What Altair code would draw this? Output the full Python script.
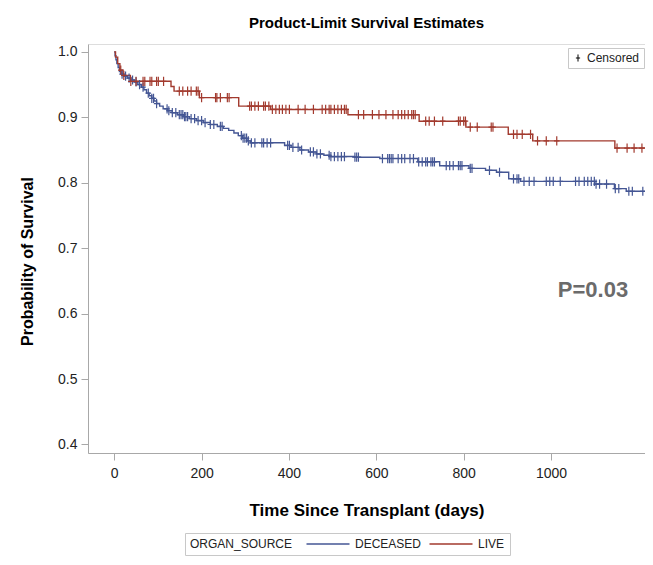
import altair as alt
import pandas as pd
import numpy as np

FONT = "Liberation Sans"

groups = ["DECEASED", "LIVE"]
colors = ["#445694", "#A23A2E"]

# Kaplan-Meier step values
deceased_t = [0, 2, 4, 6, 9, 12, 16, 22, 30, 38, 46, 54, 62, 68, 74, 80, 86, 91, 97, 104,
              112, 122, 133, 145, 158, 172, 188, 204, 220, 236, 250, 262, 274, 284, 294, 304,
              312, 390, 405, 425, 445, 463, 480, 494, 550, 608, 695, 745, 812, 850, 875, 903,
              930, 1100, 1145, 1172]
deceased_v = [1.0, 0.994, 0.988, 0.982, 0.976, 0.970, 0.966, 0.963, 0.960, 0.957, 0.954, 0.950,
              0.946, 0.942, 0.937, 0.933, 0.929, 0.925, 0.921, 0.917, 0.913, 0.910, 0.907, 0.904,
              0.901, 0.898, 0.895, 0.892, 0.889, 0.886, 0.883, 0.880, 0.876, 0.872, 0.868, 0.864,
              0.861, 0.857, 0.854, 0.850, 0.847, 0.844, 0.842, 0.840, 0.839, 0.837, 0.832, 0.826,
              0.822, 0.819, 0.816, 0.806, 0.802, 0.798, 0.791, 0.787]

live_t = [0, 3, 8, 13, 20, 37, 130, 137, 195, 285, 358, 535, 698, 805, 902, 958, 1146]
live_v = [1.0, 0.992, 0.982, 0.972, 0.964, 0.955, 0.947, 0.940, 0.930, 0.917, 0.912, 0.904,
          0.894, 0.885, 0.874, 0.864, 0.853]

end_time = 1225

# Censoring times
deceased_cens = [18, 26, 34, 42, 50, 58, 66, 78, 86, 90, 97, 121, 125, 133, 141, 149, 153, 157,
                 161, 164, 168, 176, 184, 192, 200, 208, 220, 228, 243, 247, 291, 295, 299, 303,
                 307, 314, 322, 338, 342, 350, 358, 397, 401, 409, 421, 429, 449, 456, 464, 472,
                 492, 496, 504, 512, 520, 527, 551, 555, 559, 614, 626, 630, 634, 638, 650, 658,
                 665, 677, 685, 697, 705, 713, 717, 725, 729, 733, 760, 768, 776, 788, 792, 796,
                 815, 819, 859, 882, 914, 922, 926, 938, 950, 961, 989, 997, 1005, 1021, 1056,
                 1064, 1076, 1084, 1092, 1099, 1103, 1111, 1127, 1147, 1155, 1178, 1186, 1210]
live_cens = [15, 22, 38, 50, 66, 70, 82, 86, 97, 101, 113, 149, 157, 168, 176, 188, 192, 200,
             232, 235, 243, 259, 263, 310, 314, 322, 330, 342, 346, 354, 362, 370, 378, 385,
             393, 401, 421, 437, 456, 476, 484, 492, 496, 504, 512, 520, 527, 531, 559, 571,
             591, 606, 622, 638, 650, 658, 665, 673, 681, 685, 689, 713, 721, 733, 752, 788,
             792, 800, 804, 815, 831, 863, 867, 914, 922, 934, 953, 969, 989, 1013, 1151, 1174,
             1190, 1208]

x_ticks = [0, 200, 400, 600, 800, 1000]
y_ticks = [0.4, 0.5, 0.6, 0.7, 0.8, 0.9, 1.0]


def step_frame(name, ts, vs):
    t = list(ts) + [end_time]
    v = list(vs) + [vs[-1]]
    return pd.DataFrame({"time": t, "surv": v, "group": name})


def cens_frame(name, ts, vs, cs):
    idx = np.searchsorted(np.array(ts), np.array(cs), side="right") - 1
    return pd.DataFrame({"time": cs, "surv": np.array(vs)[idx], "group": name, "kind": "Censored"})


line_df = pd.concat([step_frame("DECEASED", deceased_t, deceased_v),
                     step_frame("LIVE", live_t, live_v)], ignore_index=True)
cens_df = pd.concat([cens_frame("DECEASED", deceased_t, deceased_v, deceased_cens),
                     cens_frame("LIVE", live_t, live_v, live_cens)], ignore_index=True)

x_scale = alt.Scale(domain=[-60, 1215], nice=False, zero=False)
y_scale = alt.Scale(domain=[0.387, 1.012], nice=False, zero=False)

AX = "#a8a8a8"
x_enc = alt.X("time:Q", scale=x_scale, axis=alt.Axis(
    values=x_ticks, format="d", title="Time Since Transplant (days)", labelFontSize=14,
    titleFontSize=17, titleFontWeight="bold", tickSize=7, labelPadding=6, titlePadding=22,
    grid=False, domainColor=AX, tickColor=AX, labelColor="#222", titleColor="#000",
    labelFont=FONT, titleFont=FONT))
y_enc = alt.Y("surv:Q", scale=y_scale, axis=alt.Axis(
    values=y_ticks, format=".1f", title="Probability of Survival", labelFontSize=14,
    titleFontSize=16, titleFontWeight="bold", tickSize=7, labelPadding=4, grid=False,
    domainColor=AX, tickColor=AX, labelColor="#222", titleColor="#000", titleX=-53, titleY=217,
    labelFont=FONT, titleFont=FONT))

lines = alt.Chart(line_df).mark_line(interpolate="step-after", strokeWidth=1.4, clip=True).encode(
    x=x_enc, y=y_enc,
    color=alt.Color("group:N", scale=alt.Scale(domain=groups, range=colors), legend=alt.Legend(
        title="ORGAN_SOURCE", orient="none", legendX=97, legendY=489, direction="horizontal",
        titleOrient="left", titleFontWeight="normal", titleFontSize=12, labelFontSize=12,
        titleFont=FONT, labelFont=FONT, titleColor="#222", labelColor="#222",
        symbolType="M-4.3,0L4.3,0", symbolSize=100, symbolStrokeWidth=1.5, labelOffset=21,
        titlePadding=29, columnPadding=4, strokeColor="#c8c8c8", padding=5,
        fillColor="white")),
)

plus = "M-0.6,0L0.6,0M0,-1L0,1"
marks = alt.Chart(cens_df).mark_point(filled=False, size=85, strokeWidth=1.2, opacity=1, clip=True).encode(
    x=alt.X("time:Q", scale=x_scale),
    y=alt.Y("surv:Q", scale=y_scale),
    stroke=alt.Stroke("group:N", scale=alt.Scale(domain=groups, range=colors), legend=None),
    shape=alt.Shape("kind:N", scale=alt.Scale(domain=["Censored"], range=[plus]), legend=alt.Legend(
        title=None, orient="none", legendX=480, legendY=4, labelFontSize=12, labelFont=FONT,
        labelColor="#222", symbolStrokeColor="black", symbolSize=50, symbolStrokeWidth=1,
        strokeColor="#c8c8c8", padding=4, fillColor="white", labelOffset=3)),
)

ptext = alt.Chart(pd.DataFrame({"label": ["P=0.03"]})).mark_text(
    fontSize=22, fontWeight="bold", color="#6b6b6b", font=FONT, align="center", baseline="middle"
).encode(x=alt.value(505), y=alt.value(246), text="label:N")

chart = alt.layer(lines, marks, ptext).properties(
    width=557, height=409,
    padding={"left": 80, "top": 36, "right": 0, "bottom": 104},
    autosize="none",
    title=alt.Title("Product-Limit Survival Estimates", fontSize=15, fontWeight="bold",
                    font=FONT, anchor="middle", offset=13, color="#000"),
).configure_view(stroke=AX, strokeWidth=1).configure(background="white")

chart.save("out.html", embed_options={"renderer": "svg", "actions": False})
